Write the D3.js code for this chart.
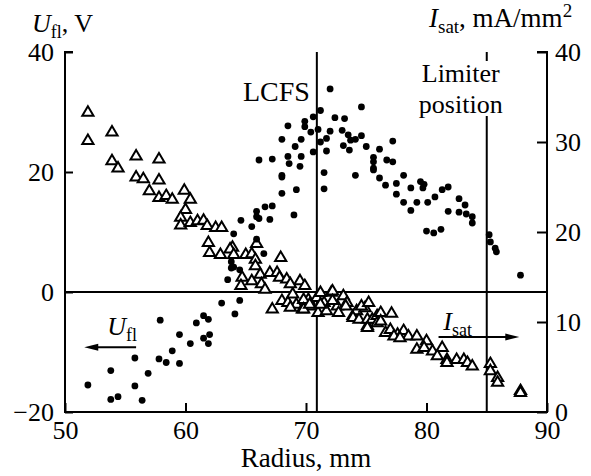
<!DOCTYPE html>
<html>
<head>
<meta charset="utf-8">
<script src="https://cdn.jsdelivr.net/npm/d3@7"></script>
<style>
  html, body { margin: 0; padding: 0; background: #fff; }
  svg { display: block; }
</style>
</head>
<body>
<svg id="chart" width="591" height="476"></svg>
<script>
// ---------------- data ----------------
const xTicks = [50, 60, 70, 80, 90];
const leftTicks = [-20, 0, 20, 40];
const rightTicks = [0, 10, 20, 30, 40];

// I_sat (filled dots, right axis): radius (mm) and value (mA/mm^2)
const isatRadius = [51.9,53.8,53.8,54.4,55.8,55.8,56.4,56.9,57.9,57.8,58.4,58.9,59.5,59.5,60.4,60.9,61.5,61.9,61.5,62.0,61.9,63.0,64.1,64.5,63.5,63.8,63.8,64.0,64.5,64.0,66.5,64.6,65.5,65.9,65.9,65.9,66.1,66.6,67.2,67.0,69.0,68.0,69.2,68.0,68.0,66.1,67.2,68.5,68.6,69.5,69.6,69.1,68.0,69.6,68.5,69.9,69.9,70.4,70.6,71.0,71.2,72.0,70.6,71.2,71.7,71.7,71.5,71.5,72.0,72.4,73.2,73.0,73.5,73.7,74.1,74.6,74.6,73.1,73.6,74.1,75.0,75.6,75.6,75.6,75.6,76.1,76.1,76.6,76.7,77.2,77.2,77.5,77.5,78.1,78.7,78.1,78.7,79.2,79.5,79.8,79.7,80.1,80.7,81.3,81.8,80.0,80.6,81.2,81.8,82.7,83.2,82.7,83.3,83.8,83.8,85.2,85.3,85.7,85.8,87.8];
const isatValue = [3.0,4.6,1.4,1.7,6.0,2.9,1.3,4.3,10.2,5.9,5.5,6.8,8.6,5.4,7.6,9.9,10.7,10.3,8.2,8.6,7.6,12.1,10.9,12.4,14.7,16.0,16.7,16.1,15.8,19.8,17.6,21.3,20.6,19.2,22.3,21.7,21.5,22.8,22.9,21.4,21.9,24.3,24.7,26.3,26.1,28.0,28.1,28.4,27.6,27.3,28.4,29.5,30.3,30.3,31.8,31.7,32.3,31.1,32.8,31.4,33.5,35.9,28.9,30.0,30.4,29.0,26.6,24.8,31.2,32.7,32.6,31.3,30.8,30.2,30.3,30.7,33.9,29.6,29.1,26.3,29.5,28.3,27.8,27.1,26.9,29.2,26.0,25.2,28.0,27.8,30.1,25.4,24.2,26.3,24.9,23.3,22.4,23.3,25.6,25.3,24.9,23.3,23.9,24.7,25.0,20.1,19.9,20.3,22.3,23.7,23.0,22.2,22.0,21.7,21.0,19.7,18.9,18.2,17.8,15.2];

// U_fl (open triangles, left axis): radius (mm) and value (V)
const ufRadius = [51.9,51.9,53.9,53.9,54.4,55.9,57.8,55.9,56.5,57.8,57.0,57.8,58.4,58.9,59.9,60.4,60.0,59.6,59.6,60.4,61.0,61.5,61.8,62.5,63.0,61.9,63.9,62.0,62.9,63.7,64.0,65.0,65.5,65.8,65.9,67.9,65.8,64.7,64.6,65.5,66.2,66.3,66.6,67.0,67.6,67.8,68.4,68.0,68.5,67.2,68.9,69.2,69.7,69.5,69.9,70.2,70.5,70.9,71.5,71.0,71.7,72.1,72.6,73.1,73.4,73.9,74.2,74.9,75.1,68.7,69.8,69.8,68.7,70.3,71.2,71.2,72.2,72.2,73.3,72.7,74.6,75.2,73.9,74.4,75.1,75.5,75.9,76.2,75.1,75.9,76.2,77.1,76.6,77.0,77.6,78.1,78.5,79.2,77.3,77.8,80.0,79.2,79.8,80.5,81.3,80.9,81.7,81.7,82.5,83.1,83.4,83.8,85.3,85.3,85.9,85.9,87.8,87.8];
const ufValue = [30.1,25.4,26.8,22.0,20.8,22.8,22.3,19.3,19.0,18.8,17.0,15.9,16.2,15.6,17.1,15.6,13.9,12.6,11.3,11.7,12.0,12.1,11.2,10.9,10.9,8.4,7.6,6.7,6.4,7.3,6.4,6.4,6.5,5.6,8.2,5.9,4.5,2.6,1.2,2.0,3.1,1.5,0.6,3.4,3.4,2.6,2.3,-1.3,-1.6,-2.7,-0.2,-1.9,-2.7,2.0,1.2,-1.1,-2.2,-0.8,-1.6,-3.3,-3.0,0.1,-2.2,-0.5,-1.6,-3.8,-3.0,-2.5,-5.5,1.5,-1.1,-2.7,-2.4,-1.9,0.05,-1.9,0.3,-1.3,-2.2,-3.3,-2.2,-1.6,-4.1,-4.4,-4.4,-4.4,-3.8,-3.3,-5.8,-5.0,-4.7,-3.4,-6.6,-6.1,-6.9,-6.3,-7.2,-7.2,-7.2,-7.5,-8.0,-9.4,-9.1,-9.7,-9.1,-10.5,-11.1,-11.6,-11.1,-11.1,-11.6,-12.2,-11.8,-13.0,-14.1,-14.9,-16.3,-16.6];

const lcfsRadius = 70.9;
const limiterRadius = 85;

// ---------------- drawing ----------------
const FONT = '"Liberation Serif"';
const FS = 26;
const svg = d3.select("#chart");

const x = d3.scaleLinear().domain([50, 90]).range([65, 547]);
const yL = d3.scaleLinear().domain([-20, 40]).range([412, 52]);
const yR = d3.scaleLinear().domain([0, 40]).range([412, 52]);

// reference lines
const lines = svg.append("g").attr("stroke", "#000").attr("stroke-width", 2);
lines.append("line").attr("x1", x(50)).attr("x2", x(90)).attr("y1", yL(0)).attr("y2", yL(0));
lines.append("line").attr("x1", x(lcfsRadius)).attr("x2", x(lcfsRadius)).attr("y1", yL(40)).attr("y2", yL(-20));
lines.append("line").attr("x1", x(limiterRadius)).attr("x2", x(limiterRadius)).attr("y1", yR(40)).attr("y2", yR(39));
lines.append("line").attr("x1", x(limiterRadius)).attr("x2", x(limiterRadius)).attr("y1", yR(32.9)).attr("y2", yR(0));

// axes
function styleAxis(g) {
  g.select(".domain").remove();
  g.selectAll(".tick line").attr("stroke", "#000").attr("stroke-width", 2);
  g.selectAll(".tick text").style("font-family", FONT).style("font-size", FS + "px").attr("fill", "#000");
}
svg.append("g").attr("transform", `translate(0,${yL(-20)})`)
  .call(d3.axisBottom(x).tickValues(xTicks).tickSize(-9).tickPadding(9))
  .call(styleAxis);
svg.append("g").attr("transform", `translate(${x(50)},0)`)
  .call(d3.axisLeft(yL).tickValues(leftTicks).tickSize(-8).tickPadding(11).tickFormat(d3.format("d")))
  .call(styleAxis);
svg.append("g").attr("transform", `translate(${x(90)},0)`)
  .call(d3.axisRight(yR).tickValues(rightTicks).tickSize(-10).tickPadding(8))
  .call(styleAxis);

// axis frame lines
const frame = svg.append("g").attr("stroke", "#000").attr("stroke-width", 2).attr("fill", "none");
frame.append("path").attr("d", `M${x(50)+8},${yL(40)} H${x(50)} V${yL(-20)} H${x(90)} V${yR(40)} H${x(90)-10}`);

// triangles (U_fl)
const tri = "M0,-5.2 L5.6,4.3 L-5.6,4.3 Z";
svg.append("g").selectAll("path").data(d3.range(ufRadius.length)).join("path")
  .attr("d", tri)
  .attr("transform", i => `translate(${x(ufRadius[i])},${yL(ufValue[i])})`)
  .attr("fill", "#fff").attr("stroke", "#000").attr("stroke-width", 2);

// dots (I_sat)
svg.append("g").selectAll("circle").data(d3.range(isatRadius.length)).join("circle")
  .attr("cx", i => x(isatRadius[i]))
  .attr("cy", i => yR(isatValue[i]))
  .attr("r", 3.4).attr("fill", "#000");

const T = svg.append("g");
function txt(xp, yp, anchor, size) {
  return T.append("text").attr("x", xp).attr("y", yp).attr("text-anchor", anchor || "start")
    .style("font-family", FONT).style("font-size", (size || FS) + "px").attr("fill", "#000");
}

// axis titles
txt((x(50) + x(90)) / 2, 467, "middle", 27).text("Radius, mm");

const tl = txt(32, 32);
tl.append("tspan").style("font-style", "italic").text("U");
tl.append("tspan").style("font-size", "18px").attr("dy", 6).text("fl");
tl.append("tspan").attr("dy", -6).text(", V");

const tr = txt(429, 27, "start", 27);
tr.append("tspan").style("font-style", "italic").text("I");
tr.append("tspan").style("font-size", "19px").attr("dy", 6).text("sat");
tr.append("tspan").attr("dy", -6).text(", mA/mm");
tr.append("tspan").style("font-size", "19px").attr("dy", -10).text("2");

txt(x(lcfsRadius) - 7, 101, "end", 28).text("LCFS");
txt(x(limiterRadius) - 26, 82, "middle").text("Limiter");
txt(x(limiterRadius) - 26, 113, "middle").text("position");

// series arrows
function arrow(x1, x2, y) {
  const dir = Math.sign(x2 - x1);
  svg.append("line").attr("x1", x1).attr("x2", x2 - dir * 8).attr("y1", y).attr("y2", y)
    .attr("stroke", "#000").attr("stroke-width", 2);
  svg.append("path").attr("d", `M${x2},${y} L${x2 - dir * 14},${y - 3.5} L${x2 - dir * 14},${y + 3.5} Z`).attr("fill", "#000");
}
arrow(x(55.9), x(51.6), yL(-9.2));
arrow(x(81.0), x(87.7), yL(-7.5));

const lu = txt(x(53.5), yL(-7.2));
lu.append("tspan").style("font-style", "italic").text("U");
lu.append("tspan").style("font-size", "18px").attr("dy", 6).text("fl");

const li = txt(x(81.4), yL(-6.3));
li.append("tspan").style("font-style", "italic").text("I");
li.append("tspan").style("font-size", "18px").attr("dy", 6).text("sat");
</script>
</body>
</html>
